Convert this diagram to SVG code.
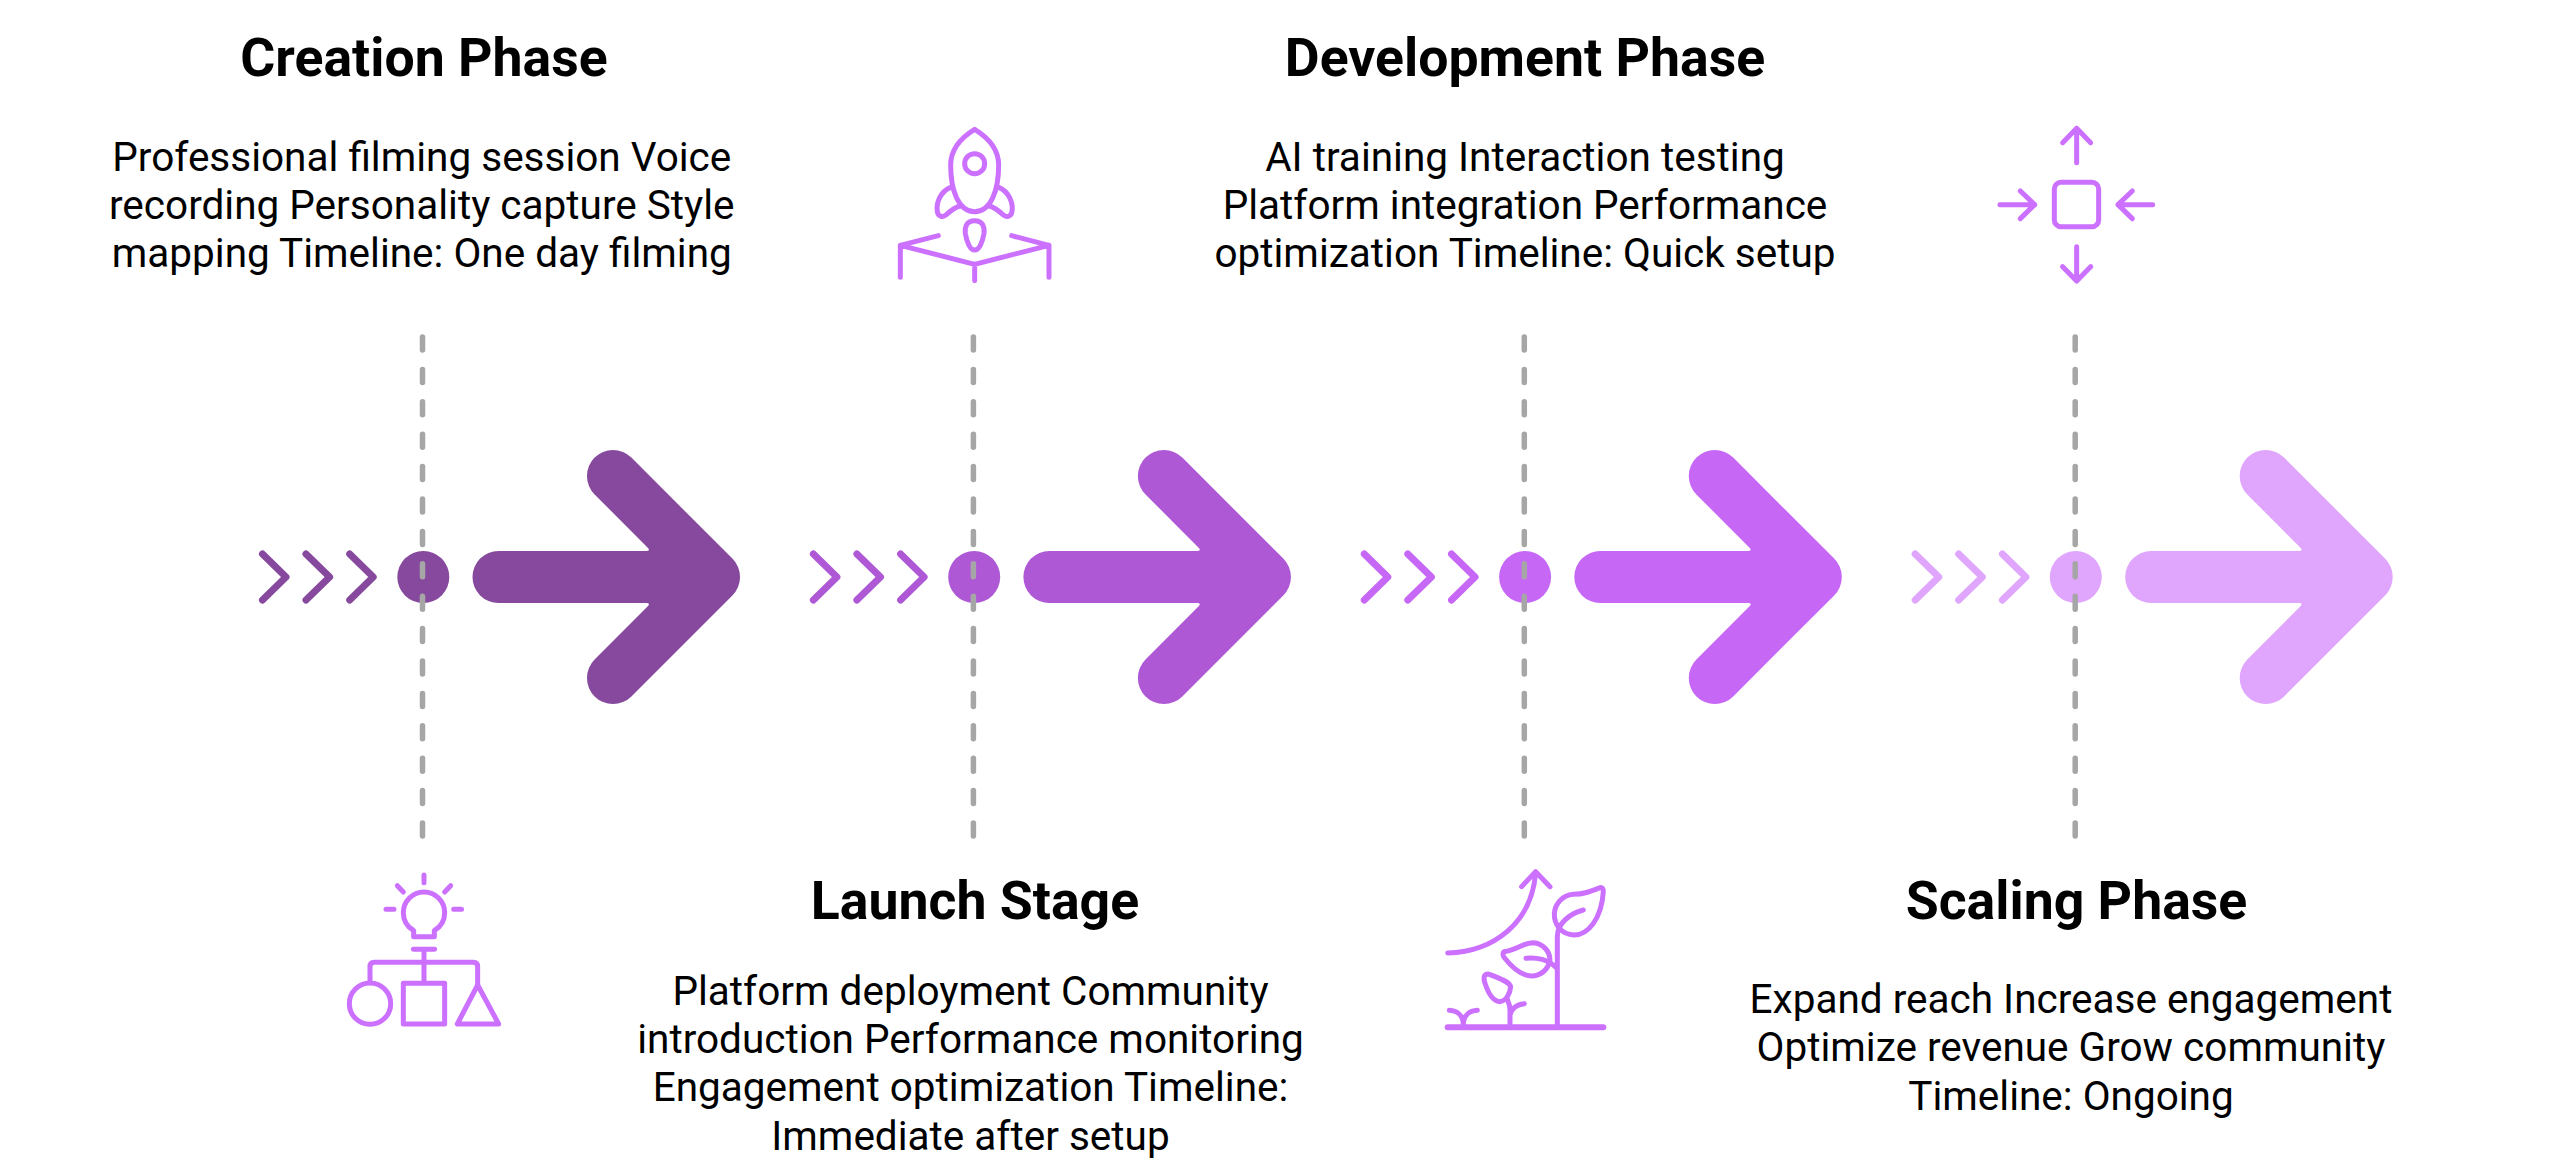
<svg xmlns="http://www.w3.org/2000/svg" width="2560" height="1170" viewBox="0 0 2560 1170">
<defs>
<style>
text{font-family:Roboto,"Liberation Sans",sans-serif;fill:#000;text-anchor:middle}
.t{font-size:53.6px;font-weight:700}
.b{font-size:40.5px;font-weight:400}
.dash{stroke:#a6a6a6;stroke-width:5.5;stroke-linecap:round;stroke-dasharray:13 19.4;fill:none}
.big{stroke:none}
.chev{fill:none;stroke-width:7;stroke-linecap:round;stroke-linejoin:round}
.icon{fill:none;stroke:#cc70ff;stroke-width:15;stroke-linecap:round;stroke-linejoin:round}
.c1{stroke:#86499e;fill:#86499e}.c2{stroke:#ae58d6;fill:#ae58d6}.c3{stroke:#c767f5;fill:#c767f5}.c4{stroke:#e0a6fd;fill:#e0a6fd}
</style>
<path id="arrow" d="M631.400 457.600L732.400 558.600A26 26 0 0 1 732.400 595.400L631.400 696.400A26 26 0 0 1 594.600 659.600L647.500 606.500Q651 603 646 603H498.500A26 26 0 0 1 498.500 551H646Q651 551 647.500 547.500L594.600 494.400A26 26 0 0 1 631.400 457.600Z"/>
<path id="chevrons" d="M262.500 554L286 577L262.500 600M306 554L329.600 577L306 600M349.700 554L373.200 577L349.700 600"/>
</defs>
<rect width="2560" height="1170" fill="#fff"/>
<g id="connectors">
<g id="stage1-flow" class="c1"><use href="#chevrons" class="chev"/><use href="#arrow" class="big"/></g>
<g id="stage2-flow" class="c2" transform="translate(550.900 0)"><use href="#chevrons" class="chev"/><use href="#arrow" class="big"/></g>
<g id="stage3-flow" class="c3" transform="translate(1101.800 0)"><use href="#chevrons" class="chev"/><use href="#arrow" class="big"/></g>
<g id="stage4-flow" class="c4" transform="translate(1652.700 0)"><use href="#chevrons" class="chev"/><use href="#arrow" class="big"/></g>
</g>
<g id="dots">
<circle cx="423.300" cy="577" r="26" fill="#86499e"/>
<circle cx="974.200" cy="577" r="26" fill="#ae58d6"/>
<circle cx="1525.100" cy="577" r="26" fill="#c767f5"/>
<circle cx="2075.800" cy="577" r="26" fill="#e0a6fd"/>
</g>
<g id="dashes">
<path class="dash" d="M422.500 337V841"/>
<path class="dash" d="M973.400 337V841"/>
<path class="dash" d="M1524.300 337V841"/>
<path class="dash" d="M2075.200 337V841"/>
</g>
<g id="creation">
<text class="t" x="424" y="76">Creation Phase</text>
<text class="b" x="421.800" y="170.500">Professional filming session Voice</text>
<text class="b" x="421.800" y="218.800">recording Personality capture Style</text>
<text class="b" x="421.800" y="267">mapping Timeline: One day filming</text>
<g class="icon" transform="translate(320 860) scale(.3333)">
<path d="M312 45V68M232 77L250 96M392 77L374 96M198 148H222M401 148H425"/>
<path d="M281 212C262 200 250 182 250 158C250 124 278 96 312 96C346 96 374 124 374 158C374 182 362 200 343 212V230H281Z"/>
<path d="M280 268H344M312 268V365M150 365V320Q150 307 163 307H460Q473 307 473 320V375"/>
<circle cx="150" cy="431" r="62"/>
<rect x="250" y="370" width="124" height="122"/>
<path d="M473 375L412 492H536Z"/>
</g>
</g>
<g id="launch">
<text class="t" x="975" y="919">Launch Stage</text>
<text class="b" x="970.500" y="1004.800">Platform deployment Community</text>
<text class="b" x="970.500" y="1053.100">introduction Performance monitoring</text>
<text class="b" x="970.500" y="1101.400">Engagement optimization Timeline:</text>
<text class="b" x="970.500" y="1149.700">Immediate after setup</text>
<g class="icon" transform="translate(860 100) scale(.3333)">
<path d="M344 88C300 115 272 150 272 195C272 270 295 335 344 335C393 335 416 270 416 195C416 150 388 115 344 88Z"/>
<circle cx="344" cy="191" r="30"/>
<path d="M272 262C240 275 228 310 232 335C235 352 250 352 258 345C272 332 285 322 300 318"/>
<path d="M416 262C448 275 460 310 456 335C453 352 438 352 430 345C416 332 403 322 388 318"/>
<path d="M344 362C320 362 314 380 316 400C320 425 330 450 344 450C358 450 368 425 372 400C374 380 368 362 344 362Z"/>
<path d="M235 407L121 436L344 493L567 436L455 407M121 436V532M344 493V542M567 436V532"/>
</g>
</g>
<g id="development">
<text class="t" x="1525" y="76">Development Phase</text>
<text class="b" x="1525" y="170.500">AI training Interaction testing</text>
<text class="b" x="1525" y="218.800">Platform integration Performance</text>
<text class="b" x="1525" y="267">optimization Timeline: Quick setup</text>
<g class="icon" transform="translate(1420 850) scale(.3333)">
<path d="M83 309C220 305 335 220 347 68M305 110L347 65L390 110"/>
<path d="M83 532H550" stroke-width="18"/>
<path d="M412 525V260C412 220 450 190 490 180"/>
<path d="M540 113C510 125 490 133 460 133C425 135 405 165 403 190C402 225 425 253 462 255C505 255 545 205 550 125C550 115 547 112 540 113Z"/>
<path d="M252 305C290 300 310 278 340 278C370 280 390 305 390 330C385 360 360 378 335 378C300 378 270 345 252 322C248 316 248 308 252 305Z"/>
<path d="M318 325C350 320 385 330 408 352"/>
<path d="M205 372C190 372 190 385 195 400C205 430 220 455 240 455C260 452 270 430 272 410C268 395 240 385 205 372Z"/>
<path d="M270 525V480C270 465 265 455 262 448M270 495C275 475 290 463 313 461"/>
<path d="M130 525C130 495 110 482 88 481M130 525C130 495 150 482 172 481"/>
</g>
</g>
<g id="scaling">
<text class="t" x="2076.500" y="919">Scaling Phase</text>
<text class="b" x="2071" y="1012.700">Expand reach Increase engagement</text>
<text class="b" x="2071" y="1061">Optimize revenue Grow community</text>
<text class="b" x="2071" y="1110">Timeline: Ongoing</text>
<g class="icon" transform="translate(1960 100) scale(.3333)">
<path d="M350 188V85M308 128L350 85L392 128"/>
<rect x="283" y="247" width="133" height="133" rx="20"/>
<path d="M120 314H224M181 273L224 314L181 356"/>
<path d="M578 314H474M517 273L474 314L517 356"/>
<path d="M350 440V543M308 500L350 543L392 500"/>
</g>
</g>
</svg>
